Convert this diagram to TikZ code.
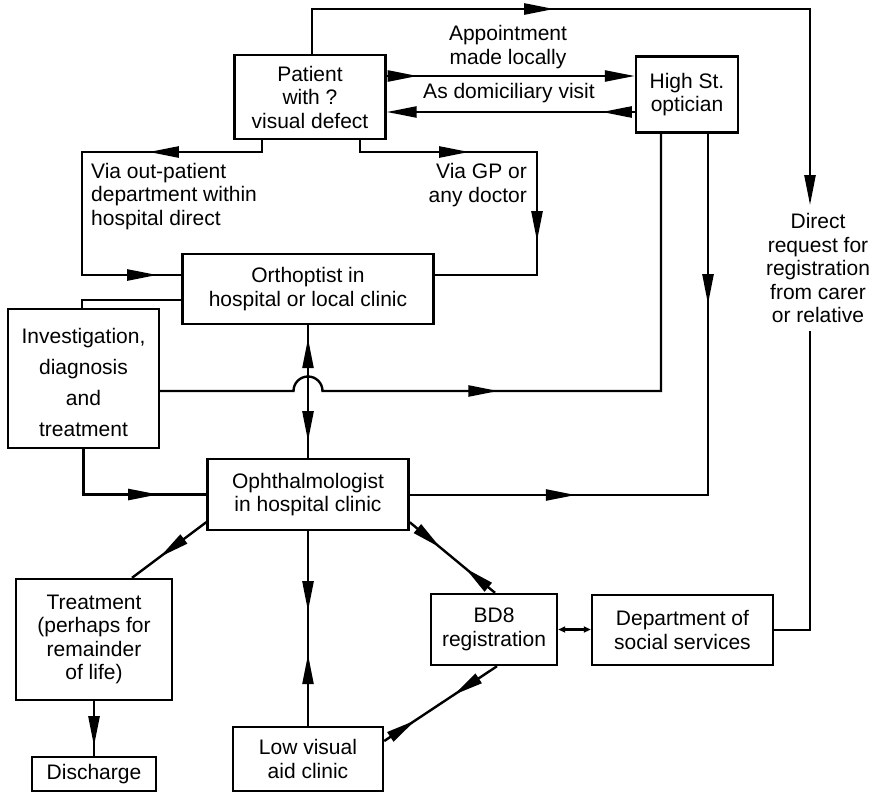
\documentclass[tikz,border=0pt]{standalone}
\usepackage{fontspec}
\setmainfont{Liberation Sans}
\usetikzlibrary{arrows.meta,decorations.markings}

\tikzset{
  Tri/.tip={Triangle[length=30pt,width=11pt]},
  Mini/.tip={Triangle[length=7pt,width=6pt]},
  box/.style={draw, line width=2.4pt, inner sep=0pt, align=center},
  lbl/.style={inner sep=0pt},
  wire/.style={line width=2.4pt},
  fwd/.style={postaction={decorate,decoration={markings,mark=at position #1 with {\arrow{Tri}}}}},
  bwd/.style={postaction={decorate,decoration={markings,mark=at position #1 with {\arrowreversed{Tri}}}}},
}

\begin{document}
\begin{tikzpicture}[x=1pt,y=-1pt,font=\fontsize{21}{23.5}\selectfont]
\useasboundingbox (0,0) rectangle (877,795);

% boxes
\node[box,minimum width=151pt,minimum height=84pt] (pat) at (310,97) {Patient\\with ?\\visual defect};
\node[box,minimum width=102pt,minimum height=76pt] (opt) at (687,94.5) {High St.\\optician};
\node[box,minimum width=251pt,minimum height=70pt] (ort) at (308,289) {Orthoptist in\\hospital or local clinic};
\node[box,minimum width=151pt,minimum height=139pt] (inv) at (83.5,378.5) {};
\node[lbl,align=center,font=\fontsize{21}{31}\selectfont] (invtxt) at ([yshift=-4pt]inv.center) {Investigation,\\diagnosis\\and\\treatment};
\node[box,minimum width=201pt,minimum height=71pt] (oph) at (308,494.5) {Ophthalmologist\\in hospital clinic};
\node[box,minimum width=156pt,minimum height=121pt] (trt) at (94,639.5) {Treatment\\(perhaps for\\remainder\\of life)};
\node[box,minimum width=124pt,minimum height=34pt] (dis) at (94,774) {Discharge};
\node[box,minimum width=150pt,minimum height=64pt] (lva) at (308,759) {Low visual\\aid clinic};
\node[box,minimum width=126pt,minimum height=71pt] (bd8) at (494,629.5) {BD8\\registration};
\node[box,minimum width=181pt,minimum height=70pt] (dss) at (682.5,630) {Department of\\social services};
\node[lbl,align=center,inner sep=8pt] (req) at (818,268) {Direct\\request for\\registration\\from carer\\or relative};

% connector labels
\node[lbl,align=center] (lapp) at (508,47) {Appointment\\made locally};
\node[lbl] (ldom) at (509,93) {As domiciliary visit};
\node[lbl,align=left,anchor=west] (lout) at (91,196.5) {Via out-patient\\department within\\hospital direct};
\node[lbl,align=right,anchor=east] (lgp) at (527,185) {Via GP or\\any doctor};

% routing points
\coordinate (tl) at (312,9);
\coordinate (tr) at (810,9);
\coordinate (yapp) at (0,76);
\coordinate (ydom) at (0,112);
\coordinate (lb1) at (262,152);
\coordinate (lb2) at (82,152);
\coordinate (lb3) at (82,275);
\coordinate (rb1) at (360,152);
\coordinate (rb2) at (537,152);
\coordinate (rb3) at (537,275);
\coordinate (ib) at (82,300);
\coordinate (jr) at (661,391);
\coordinate (jc) at (ort.south |- jr);
\coordinate (rr) at (708,495);

% patient to the request for registration (top loop)
\draw[wire,fwd=287pt,-{Tri}] (pat.north -| tl) -- (tl) -- (tr) -- (req.north -| tr);
% patient <-> optician
\draw[wire,fwd=31pt,-{Tri}] (pat.east |- yapp) -- (opt.west |- yapp);
\draw[wire,fwd=33pt,-{Tri}] (opt.west |- ydom) -- (pat.east |- ydom);
% patient to orthoptist, both routes
\draw[wire,fwd=125pt,fwd=390pt] (pat.south -| lb1) -- (lb1) -- (lb2) -- (lb3) -- (ort.west |- lb3);
\draw[wire,fwd=121pt,fwd=278pt] (pat.south -| rb1) -- (rb1) -- (rb2) -- (rb3) -- (ort.east |- rb3);
% orthoptist to investigation
\draw[wire] (ort.west |- ib) -- (ib) -- (ib |- inv.north);
% investigation to optician, hopping over the vertical line
\draw[wire,fwd=354.6pt] (inv.east |- jr) -- ([xshift=-14.5pt]jc)
  arc[start angle=180,end angle=0,radius=14.5pt] -- (jr) -- (opt.south -| jr);
% optician <-> ophthalmologist
\draw[wire,fwd=170.5pt,bwd=493.5pt] (opt.south -| rr) -- (rr) -- (oph.east |- rr);
% orthoptist <-> ophthalmologist
\draw[wire,fwd=116pt,bwd=13pt] (ort.south) -- (oph.north);
% investigation to ophthalmologist
\draw[wire,fwd=120pt] (inv.south) |- (oph.west);
% ophthalmologist to treatment, treatment to discharge
\draw[wire,fwd=58pt] ([yshift=9pt]oph.south west) -- ([xshift=38pt]trt.north);
\draw[wire,fwd=45pt] (trt.south) -- (dis.north);
% ophthalmologist <-> low visual aid clinic
\draw[wire,fwd=80pt,bwd=123pt] (oph.south) -- (lva.north);
% ophthalmologist <-> BD8
\draw[wire,fwd=40pt,bwd=72pt] ([yshift=9pt]oph.south east) -- ([xshift=1pt]bd8.north);
% BD8 <-> low visual aid clinic
\draw[wire,fwd=52pt,bwd=98pt] ([xshift=3pt]bd8.south) -- ([yshift=18pt]lva.east);
% BD8 <-> social services
\draw[wire,{Mini}-{Mini}] (bd8.east) -- (dss.west |- bd8.east);
% social services to the request for registration
\draw[wire] (dss.east) -| (req.south -| tr);
\end{tikzpicture}
\end{document}
